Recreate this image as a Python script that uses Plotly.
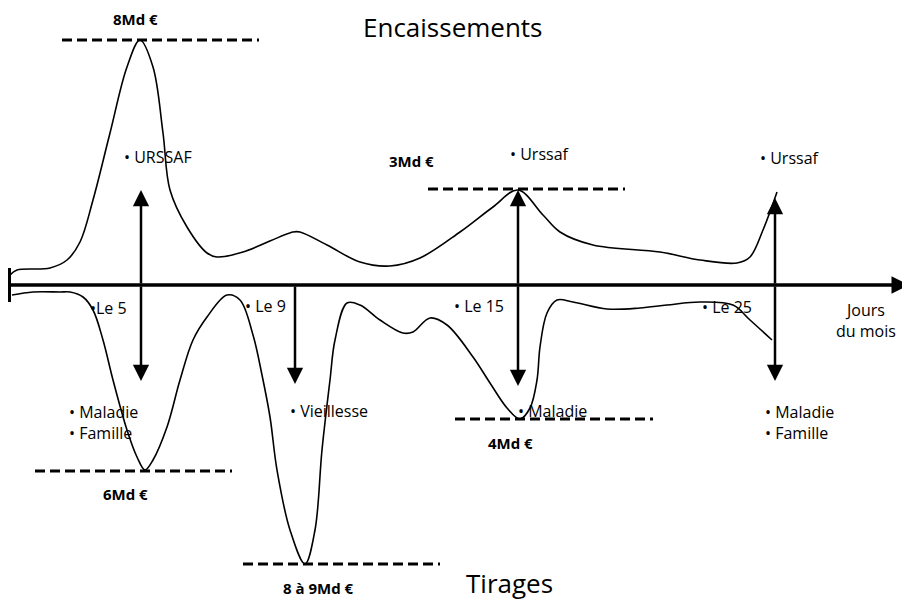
import plotly.graph_objects as go

# ---------------- data (schematic units: x = position along the month, y = level, top = 0) -------------
axis_y = 285

enc_x = [10, 17, 50, 67, 80, 93, 110, 127, 140, 153, 163, 170, 187, 207, 217, 243, 293, 300, 327, 360,
         390, 420, 460, 493, 518, 543, 560, 593, 660, 700, 737, 750, 763, 777]
enc_y = [275, 270, 268, 260, 242, 200, 133, 67, 40, 67, 133, 190, 227, 253, 257, 252, 232, 232, 245, 262,
         266, 258, 232, 207, 190, 215, 232, 245, 252, 260, 263, 257, 230, 192]

tir_x = [12, 33, 60, 70, 83, 93, 103, 113, 127, 137, 145, 153, 167, 180, 193, 207, 227, 240, 253, 262,
         270, 277, 290, 305, 315, 322, 330, 335, 347, 360, 380, 403, 413, 430, 447, 473, 490, 507, 520,
         530, 537, 540, 547, 557, 573, 607, 640, 667, 700, 733, 750, 772]
tir_y = [295, 292, 292, 292, 297, 310, 340, 380, 430, 457, 470, 460, 427, 380, 340, 317, 295, 300, 335, 375,
         417, 470, 530, 564, 530, 450, 380, 340, 303, 305, 320, 333, 332, 318, 325, 357, 383, 408, 419,
         408, 380, 347, 313, 300, 302, 309, 308, 305, 302, 305, 320, 340]

# payment days (vertical arrows)
arrow_x = [141, 295, 518, 775]
arrow_up_tip = [190, None, 190, 198]
arrow_down_tip = [381, 384, 386, 381]

# peak / trough levels (dashed lines)
level_y = [40, 189, 471, 564, 419]
level_x0 = [62, 428, 35, 243, 455]
level_x1 = [259, 625, 232, 440, 653]
level_labels = ["8Md €", "3Md €", "6Md €", "8 à 9Md €", "4Md €"]
level_label_x = [135, 411, 125, 318, 510]
level_label_y = [19, 161, 494, 588, 443]

day_labels = ["•Le 5", "• Le 9", "• Le 15", "• Le 25"]
day_label_x = [88, 243, 452, 700]
day_label_y = [308, 306, 306, 307]

bullet_labels = ["• URSSAF", "• Urssaf", "• Urssaf", "• Maladie<br>• Famille", "• Vieillesse",
                 "• Maladie", "• Maladie<br>• Famille"]
bullet_x = [122, 508, 758, 67, 288, 516, 763]
bullet_y = [157, 154, 158, 422, 411, 411, 422]

FONT = "Open Sans"
# the page body adds an 8 px offset: shift the axis ranges so schematic units map to window pixels
OFF = 8

fig = go.Figure()

fig.add_trace(go.Scatter(x=enc_x, y=enc_y, mode="lines", line=dict(color="black", width=1.6, shape="spline", smoothing=1.0),
                         hoverinfo="skip", showlegend=False))
fig.add_trace(go.Scatter(x=tir_x, y=tir_y, mode="lines", line=dict(color="black", width=1.6, shape="spline", smoothing=1.0),
                         hoverinfo="skip", showlegend=False))

for y, x0, x1 in zip(level_y, level_x0, level_x1):
    fig.add_trace(go.Scatter(x=[x0, x1], y=[y, y], mode="lines",
                             line=dict(color="black", width=2.8, dash="10px,5px"),
                             hoverinfo="skip", showlegend=False))

annotations = []
# main time axis with arrow
annotations.append(dict(x=909, y=axis_y, ax=4, ay=axis_y, xref="x", yref="y", axref="x", ayref="y",
                        showarrow=True, arrowhead=2, arrowsize=1.0, arrowwidth=3.5, arrowcolor="black", text=""))
# vertical arrows
for x, up, down in zip(arrow_x, arrow_up_tip, arrow_down_tip):
    if up is not None:
        annotations.append(dict(x=x, y=up, ax=x, ay=axis_y, xref="x", yref="y", axref="x", ayref="y",
                                showarrow=True, arrowhead=2, arrowsize=1.3, arrowwidth=2.5, arrowcolor="black", text=""))
    annotations.append(dict(x=x, y=down, ax=x, ay=axis_y, xref="x", yref="y", axref="x", ayref="y",
                            showarrow=True, arrowhead=2, arrowsize=1.3, arrowwidth=2.5, arrowcolor="black", text=""))

for t, x, y in zip(level_labels, level_label_x, level_label_y):
    annotations.append(dict(x=x, y=y, xref="x", yref="y", text="<b>" + t + "</b>", showarrow=False,
                            font=dict(family=FONT, size=15, color="black"), xanchor="center", yanchor="middle",
                            borderpad=0))
for t, x, y in zip(day_labels, day_label_x, day_label_y):
    annotations.append(dict(x=x, y=y, xref="x", yref="y", text=t, showarrow=False,
                            font=dict(family=FONT, size=16, color="black"), xanchor="left", yanchor="middle"))
for t, x, y in zip(bullet_labels, bullet_x, bullet_y):
    annotations.append(dict(x=x, y=y, xref="x", yref="y", text=t, showarrow=False, align="left",
                            font=dict(family=FONT, size=16, color="black"), xanchor="left", yanchor="middle"))

annotations.append(dict(x=453, y=27, xref="x", yref="y", text="Encaissements", showarrow=False,
                        font=dict(family=FONT, size=26, color="black"), xanchor="center", yanchor="middle"))
annotations.append(dict(x=509, y=583, xref="x", yref="y", text="Tirages", showarrow=False,
                        font=dict(family=FONT, size=26, color="black"), xanchor="center", yanchor="middle"))
annotations.append(dict(x=866, y=320, xref="x", yref="y", text="Jours<br>du mois", showarrow=False,
                        font=dict(family=FONT, size=16, color="black"), xanchor="center", yanchor="middle"))

# start-of-month tick on the time axis
shapes = [dict(type="line", x0=9.5, x1=9.5, y0=268, y1=302, xref="x", yref="y", line=dict(color="black", width=3))]

fig.update_layout(
    width=910, height=605,
    margin=dict(l=0, r=0, t=0, b=0),
    paper_bgcolor="white", plot_bgcolor="white",
    xaxis=dict(range=[OFF, 910 + OFF], visible=False, fixedrange=True),
    yaxis=dict(range=[605 + OFF, OFF], visible=False, fixedrange=True),
    annotations=annotations,
    shapes=shapes,
)

fig.write_html("out.html")
